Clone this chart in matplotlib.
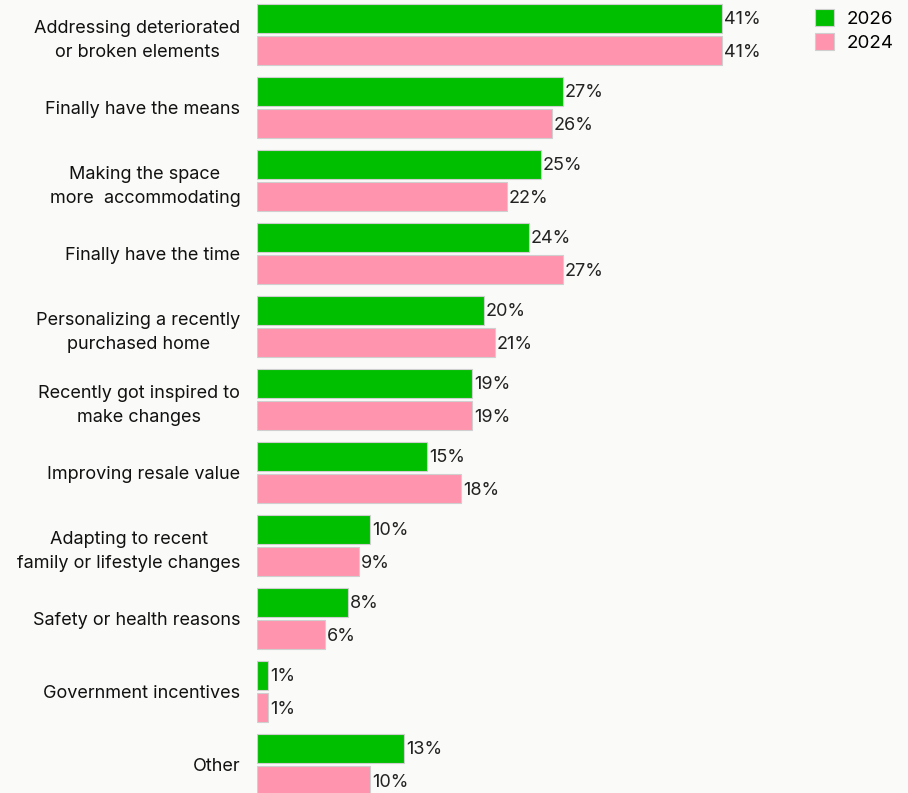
import matplotlib.pyplot as plt
import numpy as np

plt.rcParams['font.family'] = ['Inter', 'DejaVu Sans']

categories = [
    'Addressing deteriorated\nor broken elements',
    'Finally have the means',
    'Making the space\nmore  accommodating',
    'Finally have the time',
    'Personalizing a recently\npurchased home',
    'Recently got inspired to\nmake changes',
    'Improving resale value',
    'Adapting to recent\nfamily or lifestyle changes',
    'Safety or health reasons',
    'Government incentives',
    'Other',
]
values_2026 = [41, 27, 25, 24, 20, 19, 15, 10, 8, 1, 13]
values_2024 = [41, 26, 22, 27, 21, 19, 18, 9, 6, 1, 10]

GREEN = '#00bf00'
PINK = '#ff94ae'
BG = '#fafaf8'


def main():
    fig = plt.figure(figsize=(9.08, 7.93), dpi=100, facecolor=BG)
    ax = fig.add_axes([257 / 908, 0, 1 - 257 / 908, 1], facecolor=BG)

    y = np.arange(len(categories))
    h = 0.40
    off = 0.22
    b1 = ax.barh(y - off, values_2026, height=h, color=GREEN, edgecolor='#cfcfcf',
                 linewidth=0.8, label='2026')
    b2 = ax.barh(y + off, values_2024, height=h, color=PINK, edgecolor='#cfcfcf',
                 linewidth=0.8, label='2024')

    # value labels just past the end of each bar
    for bars, vals in ((b1, values_2026), (b2, values_2024)):
        for bar, v in zip(bars, vals):
            ax.text(v + 0.15, bar.get_y() + bar.get_height() / 2 + 0.02, f'{v}%',
                    va='center', ha='left', fontsize=13, color='#222222')

    ax.set_yticks(y)
    ax.set_yticklabels(categories, fontsize=13, multialignment='center',
                       color='#111111', linespacing=1.55)
    ax.tick_params(axis='y', length=0, pad=12)
    ax.set_xticks([])
    ax.set_xlim(0, 57.4)
    ax.set_ylim(10.39, -0.4726)
    for s in ax.spines.values():
        s.set_visible(False)

    ax.legend(loc='upper right', bbox_to_anchor=(0.993, 1.0), frameon=False, fontsize=13.5,
              handlelength=1.0, handleheight=1.0, handletextpad=0.7, labelspacing=0.25,
              borderaxespad=0.1)

    fig.savefig('out.png', dpi=100, facecolor=BG)


if __name__ == '__main__':
    main()
